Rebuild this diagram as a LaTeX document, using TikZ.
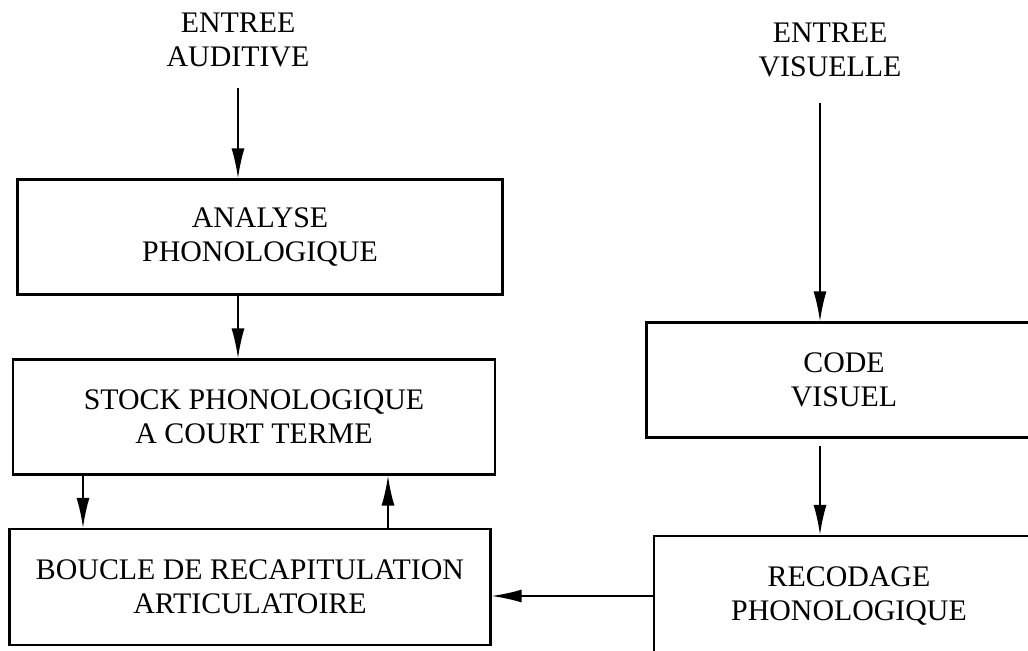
\documentclass[tikz,border=0pt]{standalone}
\usepackage{fontspec}
\setmainfont{Liberation Serif}
\usetikzlibrary{arrows.meta}
\begin{document}
\begin{tikzpicture}[x=0.02cm,y=-0.02cm,
    font=\fontsize{17}{19.4}\selectfont,
    box/.style={draw,line width=1.3pt,align=center,minimum height=2.3cm},
    lbl/.style={align=center,inner sep=2pt},
    arr/.style={line width=1pt,-{Latex[length=6mm,width=2.6mm]}}]
    \clip (0,0) rectangle (1028,650);

    % entrees
    \node[lbl] (audin) at (238,40) {ENTREE\\AUDITIVE};
    \node[lbl] (visin) at (830,50) {ENTREE\\VISUELLE};

    % boites de gauche
    \node[box,minimum width=9.7cm] (analyse) at (260,237) {ANALYSE\\PHONOLOGIQUE};
    \node[box,minimum width=9.64cm] (stock) at (254,417) {STOCK PHONOLOGIQUE\\A COURT TERME};
    \node[box,minimum width=9.62cm,minimum height=2.32cm] (boucle) at (250,587) {BOUCLE DE RECAPITULATION\\ARTICULATOIRE};

    % boites de droite
    \node[box,minimum width=7.9cm] (code) at (844,380) {CODE\\VISUEL};
    \node[box,minimum width=7.8cm,minimum height=2.4cm] (recod) at (849,596) {RECODAGE\\PHONOLOGIQUE};

    \coordinate (lx) at (83,0);
    \coordinate (rx) at (388,0);
    \coordinate (vx) at (820,0);

    \draw[arr,shorten <=0.35cm] (audin.south) -- (audin.south |- analyse.north);
    \draw[arr] (analyse.south -| audin) -- (stock.north -| audin);
    \draw[arr] (stock.south -| lx) -- (boucle.north -| lx);
    \draw[arr] (boucle.north -| rx) -- (stock.south -| rx);
    \draw[arr,shorten <=0.45cm] (visin.south -| vx) -- (code.north -| vx);
    \draw[arr,shorten <=0.15cm] (code.south -| vx) -- (recod.north -| vx);
    \draw[arr] (recod.west) -- (recod.west -| boucle.east);
\end{tikzpicture}
\end{document}
